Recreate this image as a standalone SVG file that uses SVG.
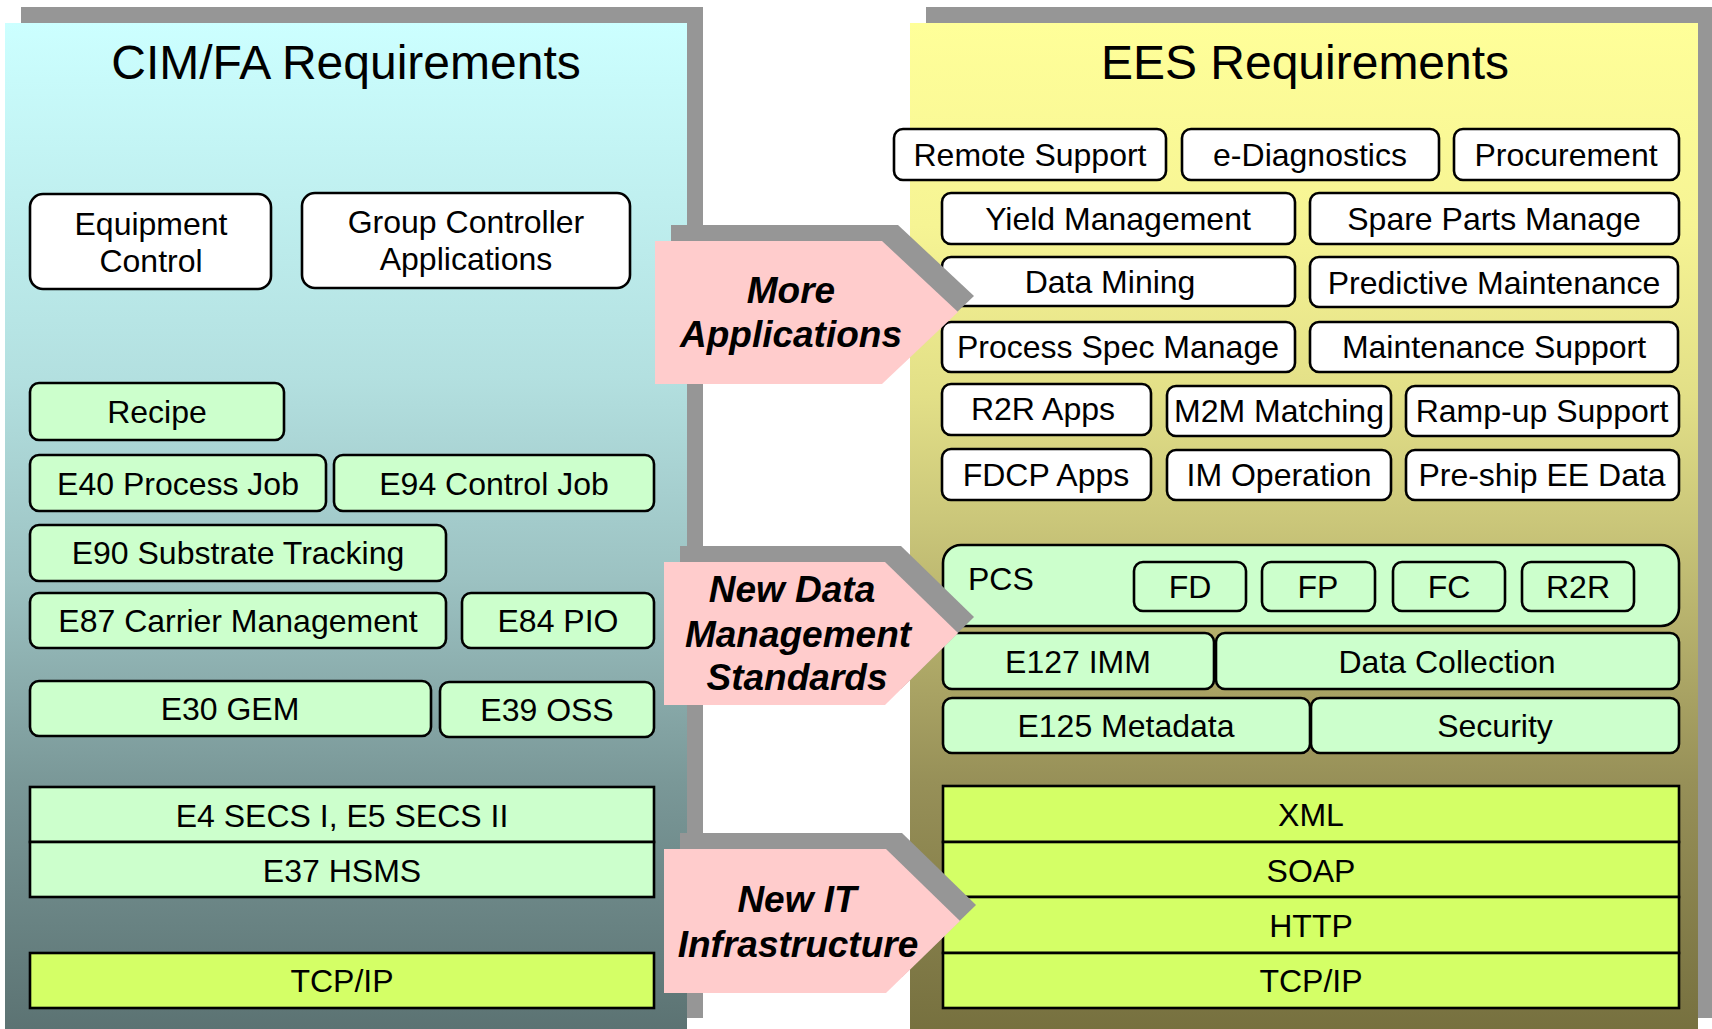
<svg xmlns="http://www.w3.org/2000/svg" width="1712" height="1029" viewBox="0 0 1712 1029">
<defs>
<linearGradient id="gLeft" x1="0" y1="0" x2="0" y2="1">
<stop offset="0" stop-color="#ccffff"/>
<stop offset="0.35" stop-color="#b3e0e0"/>
<stop offset="0.55" stop-color="#9cc2c2"/>
<stop offset="0.75" stop-color="#7a9898"/>
<stop offset="1" stop-color="#5b7272"/>
</linearGradient>
<linearGradient id="gRight" x1="0" y1="0" x2="0" y2="1">
<stop offset="0" stop-color="#ffff99"/>
<stop offset="0.2" stop-color="#f6f494"/>
<stop offset="0.37" stop-color="#e2df87"/>
<stop offset="0.49" stop-color="#cbc77a"/>
<stop offset="0.75" stop-color="#979058"/>
<stop offset="1" stop-color="#76703f"/>
</linearGradient>
<style>
.sh{fill:#969696}
.w{fill:#ffffff;stroke:#000;stroke-width:2.6}
.g{fill:#ccffcc;stroke:#000;stroke-width:2.6}
.y{fill:#d4ff66;stroke:#000;stroke-width:2.6}
.pk{fill:#ffcccc}
text{font-family:"Liberation Sans",Arial,sans-serif;font-size:32px;text-anchor:middle;fill:#000}
.title{font-size:48px}
.at{font-size:37px;font-weight:bold;font-style:italic}
.l{text-anchor:start}
</style>
</defs>

<g id="left-panel">
<rect class="sh" x="21" y="7" width="682" height="1011"/>
<rect x="5" y="23" width="682" height="1011" fill="url(#gLeft)"/>
<text class="title" x="346" y="79">CIM/FA Requirements</text>
</g>

<g id="right-panel">
<rect class="sh" x="926" y="7" width="788" height="1011"/>
<rect x="910" y="23" width="788" height="1011" fill="url(#gRight)"/>
<text class="title" x="1305" y="79">EES Requirements</text>
</g>

<g id="equipment-control"><rect class="w" x="30" y="194" width="241" height="95" rx="13"/><text x="151" y="235">Equipment</text><text x="151" y="272">Control</text></g>
<g id="group-controller"><rect class="w" x="302" y="193" width="328" height="95" rx="13"/><text x="466" y="233">Group Controller</text><text x="466" y="270">Applications</text></g>

<g id="recipe"><rect class="g" x="30" y="383" width="254" height="57" rx="9"/><text x="157" y="423">Recipe</text></g>
<g id="e40"><rect class="g" x="30" y="455" width="296" height="56" rx="9"/><text x="178" y="495">E40 Process Job</text></g>
<g id="e94"><rect class="g" x="334" y="455" width="320" height="56" rx="9"/><text x="494" y="495">E94 Control Job</text></g>
<g id="e90"><rect class="g" x="30" y="525" width="416" height="56" rx="9"/><text x="238" y="564">E90 Substrate Tracking</text></g>
<g id="e87"><rect class="g" x="30" y="593" width="416" height="55" rx="9"/><text x="238" y="632">E87 Carrier Management</text></g>
<g id="e84"><rect class="g" x="462" y="593" width="192" height="55" rx="9"/><text x="558" y="632">E84 PIO</text></g>
<g id="e30"><rect class="g" x="30" y="681" width="401" height="55" rx="9"/><text x="230" y="720">E30 GEM</text></g>
<g id="e39"><rect class="g" x="440" y="682" width="214" height="55" rx="9"/><text x="547" y="721">E39 OSS</text></g>
<g id="e4-e5"><rect class="g" x="30" y="787" width="624" height="55"/><text x="342" y="827">E4 SECS I, E5 SECS II</text></g>
<g id="e37"><rect class="g" x="30" y="842" width="624" height="55"/><text x="342" y="882">E37 HSMS</text></g>
<g id="tcpip-left"><rect class="y" x="30" y="953" width="624" height="55"/><text x="342" y="992">TCP/IP</text></g>

<g id="remote-support"><rect class="w" x="894" y="129" width="272" height="51" rx="9"/><text x="1030" y="166">Remote Support</text></g>
<g id="e-diagnostics"><rect class="w" x="1182" y="129" width="257" height="51" rx="9"/><text x="1310" y="166">e-Diagnostics</text></g>
<g id="procurement"><rect class="w" x="1454" y="129" width="225" height="51" rx="9"/><text x="1566" y="166">Procurement</text></g>
<g id="yield-management"><rect class="w" x="942" y="193" width="353" height="51" rx="9"/><text x="1118" y="230">Yield Management</text></g>
<g id="spare-parts"><rect class="w" x="1310" y="193" width="369" height="51" rx="9"/><text x="1494" y="230">Spare Parts Manage</text></g>
<g id="data-mining"><rect class="w" x="942" y="257" width="353" height="49" rx="9"/><text x="1110" y="293">Data Mining</text></g>
<g id="predictive-maintenance"><rect class="w" x="1310" y="257" width="368" height="50" rx="9"/><text x="1494" y="294">Predictive Maintenance</text></g>
<g id="process-spec"><rect class="w" x="942" y="322" width="353" height="50" rx="9"/><text x="1118" y="358">Process Spec Manage</text></g>
<g id="maintenance-support"><rect class="w" x="1310" y="322" width="368" height="50" rx="9"/><text x="1494" y="358">Maintenance Support</text></g>
<g id="r2r-apps"><rect class="w" x="942" y="384" width="209" height="51" rx="9"/><text x="1043" y="420">R2R Apps</text></g>
<g id="m2m-matching"><rect class="w" x="1167" y="386" width="224" height="50" rx="9"/><text x="1279" y="422">M2M Matching</text></g>
<g id="ramp-up"><rect class="w" x="1406" y="386" width="273" height="50" rx="9"/><text x="1542" y="422">Ramp-up Support</text></g>
<g id="fdcp-apps"><rect class="w" x="942" y="449" width="209" height="51" rx="9"/><text x="1046" y="486">FDCP Apps</text></g>
<g id="im-operation"><rect class="w" x="1167" y="450" width="224" height="50" rx="9"/><text x="1279" y="486">IM Operation</text></g>
<g id="pre-ship"><rect class="w" x="1406" y="450" width="273" height="50" rx="9"/><text x="1542" y="486">Pre-ship EE Data</text></g>

<g id="pcs"><rect class="g" x="943" y="545" width="736" height="81" rx="18"/><text class="l" x="968" y="590">PCS</text></g>
<g id="fd"><rect class="g" x="1134" y="562" width="112" height="49" rx="9"/><text x="1190" y="598">FD</text></g>
<g id="fp"><rect class="g" x="1262" y="562" width="113" height="49" rx="9"/><text x="1318" y="598">FP</text></g>
<g id="fc"><rect class="g" x="1393" y="562" width="112" height="49" rx="9"/><text x="1449" y="598">FC</text></g>
<g id="r2r"><rect class="g" x="1522" y="562" width="112" height="49" rx="9"/><text x="1578" y="598">R2R</text></g>
<g id="e127"><rect class="g" x="943" y="633" width="271" height="56" rx="9"/><text x="1078" y="673">E127 IMM</text></g>
<g id="data-collection"><rect class="g" x="1216" y="633" width="463" height="56" rx="9"/><text x="1447" y="673">Data Collection</text></g>
<g id="e125"><rect class="g" x="943" y="698" width="367" height="55" rx="9"/><text x="1126" y="737">E125 Metadata</text></g>
<g id="security"><rect class="g" x="1311" y="698" width="368" height="55" rx="9"/><text x="1495" y="737">Security</text></g>

<g id="xml"><rect class="y" x="943" y="786" width="736" height="56"/><text x="1311" y="826">XML</text></g>
<g id="soap"><rect class="y" x="943" y="842" width="736" height="55"/><text x="1311" y="882">SOAP</text></g>
<g id="http"><rect class="y" x="943" y="897" width="736" height="56"/><text x="1311" y="937">HTTP</text></g>
<g id="tcpip-right"><rect class="y" x="943" y="953" width="736" height="55"/><text x="1311" y="992">TCP/IP</text></g>

<g id="connectors">
<g id="arrow-more-applications">
<polygon class="sh" points="671,225 898,225 974,296 898,368 671,368"/>
<polygon class="pk" points="655,241 882,241 958,312 882,384 655,384"/>
<text class="at" x="791" y="303">More</text>
<text class="at" x="791" y="347">Applications</text>
</g>
<g id="arrow-data-management">
<polygon class="sh" points="680,546 901,546 974,617 901,689 680,689"/>
<polygon class="pk" points="664,562 885,562 958,633 885,705 664,705"/>
<text class="at" x="792" y="602">New Data</text>
<text class="at" x="798" y="647">Management</text>
<text class="at" x="797" y="690">Standards</text>
</g>
<g id="arrow-it-infrastructure">
<polygon class="sh" points="680,833 902,833 976,905 902,977 680,977"/>
<polygon class="pk" points="664,849 886,849 960,921 886,993 664,993"/>
<text class="at" x="797" y="912">New IT</text>
<text class="at" x="798" y="957">Infrastructure</text>
</g>
</g>
</svg>
